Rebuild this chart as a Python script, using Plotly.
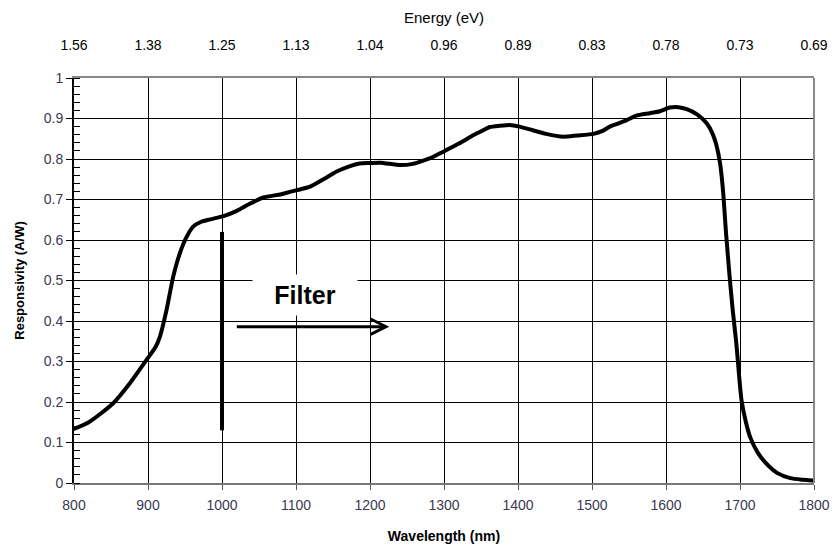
import plotly.graph_objects as go

# Responsivity curve
wavelength_nm = [799, 820, 853, 875, 898, 910, 916, 925, 934, 943, 952, 961, 972, 984, 1002,
                 1020, 1038, 1056, 1080, 1101, 1119, 1137, 1155, 1172, 1186, 1200, 1214,
                 1241, 1258, 1272, 1285, 1299, 1320, 1340, 1352, 1362, 1375, 1389, 1402,
                 1416, 1438, 1461, 1480, 1502, 1515, 1524, 1533, 1547, 1560, 1578, 1592,
                 1605, 1617, 1628, 1642, 1655, 1663, 1668, 1673, 1677, 1681, 1686, 1690,
                 1695, 1702, 1708, 1714, 1724, 1736, 1750, 1768, 1785, 1800, 1808]
responsivity = [0.133, 0.150, 0.197, 0.245, 0.304, 0.335, 0.361, 0.427, 0.509, 0.567, 0.607,
                0.633, 0.645, 0.651, 0.659, 0.672, 0.690, 0.705, 0.713, 0.723, 0.732, 0.750,
                0.769, 0.782, 0.789, 0.790, 0.791, 0.785, 0.788, 0.796, 0.805, 0.818, 0.838,
                0.859, 0.870, 0.879, 0.882, 0.884, 0.880, 0.873, 0.862, 0.855, 0.858, 0.862,
                0.870, 0.880, 0.886, 0.896, 0.907, 0.913, 0.918, 0.927, 0.928, 0.923, 0.910,
                0.888, 0.862, 0.835, 0.790, 0.723, 0.620, 0.509, 0.430, 0.345, 0.205, 0.150,
                0.112, 0.075, 0.047, 0.025, 0.012, 0.008, 0.006, 0.005]

# Axis ticks
x_ticks = [800, 900, 1000, 1100, 1200, 1300, 1400, 1500, 1600, 1700, 1800]
energy_labels = ["1.56", "1.38", "1.25", "1.13", "1.04", "0.96", "0.89", "0.83", "0.78", "0.73", "0.69"]
y_ticks = [0, 0.1, 0.2, 0.3, 0.4, 0.5, 0.6, 0.7, 0.8, 0.9, 1]

# Filter marker
filter_line_x = [1000, 1000]
filter_line_y = [0.13, 0.62]
arrow_start = (1018, 0.386)
arrow_end = (1226, 0.386)
filter_label_pos = (1112, 0.463)

tick_color = "#3a3a52"
font_family = "Arial, Liberation Sans, sans-serif"

fig = go.Figure()

fig.add_trace(go.Scatter(
    x=wavelength_nm, y=responsivity, mode="lines",
    line=dict(color="black", width=4, shape="spline", smoothing=0.6),
    hoverinfo="skip", showlegend=False,
))

fig.add_trace(go.Scatter(
    x=filter_line_x, y=filter_line_y, mode="lines",
    line=dict(color="black", width=4), showlegend=False, hoverinfo="skip",
))

# invisible trace for top axis
fig.add_trace(go.Scatter(x=[x_ticks[0], x_ticks[-1]], y=[0, 0], xaxis="x2",
                         mode="markers", marker=dict(opacity=0), showlegend=False,
                         hoverinfo="skip"))

fig.update_layout(
    width=834, height=548,
    margin=dict(l=74, r=20, t=78, b=65),
    paper_bgcolor="white", plot_bgcolor="white",
    font=dict(family=font_family, size=14, color=tick_color),
    xaxis=dict(
        range=[800, 1800], tickvals=x_ticks, ticks="outside", ticklen=5,
        tickcolor="#555", showgrid=True, gridcolor="black", gridwidth=1,
        showline=True, linecolor="#777", linewidth=2, zeroline=False, automargin=False,
        ticklabelstandoff=3,
        tickfont=dict(size=14, color=tick_color),
        title=dict(text="<b>Wavelength (nm)</b>", font=dict(size=14, color="black"), standoff=19),
    ),
    xaxis2=dict(
        range=[800, 1800], overlaying="x", side="top", tickvals=x_ticks,
        ticktext=energy_labels, ticks="", showgrid=False, showline=True,
        linecolor="#888", linewidth=2, zeroline=False, ticklabelstandoff=20, automargin=False,
        tickfont=dict(size=14, color="black"),
        title=dict(text="Energy (eV)", font=dict(size=15, color="black"), standoff=10),
    ),
    yaxis=dict(
        range=[0, 1], tickvals=y_ticks, ticks="outside", ticklen=6, tickcolor="black",
        showgrid=True, gridcolor="black", gridwidth=1, zeroline=False, automargin=False,
        showline=True, linecolor="black", linewidth=2, mirror=False,
        tickfont=dict(size=14, color=tick_color),
        minor=dict(dtick=0.02, ticks="inside", ticklen=6, tickcolor="black", showgrid=False),
        title=dict(text="<b>Responsivity (A/W)</b>", font=dict(size=13, color="black"), standoff=16),
    ),
    shapes=[dict(type="line", xref="paper", yref="paper", x0=1, x1=1, y0=0, y1=1,
                 line=dict(color="#888", width=2))],
    annotations=[
        dict(x=filter_label_pos[0], y=filter_label_pos[1], xref="x", yref="y",
             text="<b>Filter</b>", showarrow=False, bgcolor="white",
             width=100, height=36, borderpad=2,
             font=dict(size=25, color="black", family=font_family)),
        dict(x=arrow_end[0], y=arrow_end[1], ax=arrow_start[0], ay=arrow_start[1],
             xref="x", yref="y", axref="x", ayref="y", text="", showarrow=True,
             arrowhead=5, arrowsize=1.0, arrowwidth=3, arrowcolor="black"),
    ],
)

fig.write_html("out.html")
